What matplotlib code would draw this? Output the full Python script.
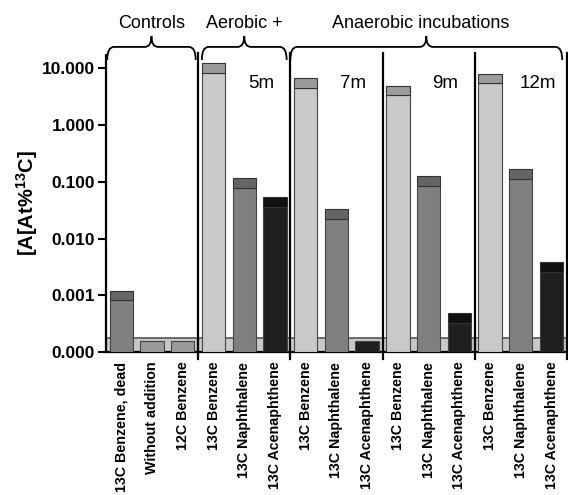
import numpy as np
import matplotlib
matplotlib.use("Agg")
import matplotlib.pyplot as plt
from matplotlib.path import Path
from matplotlib.patches import PathPatch
from matplotlib.transforms import blended_transform_factory
from matplotlib.ticker import FixedLocator, FuncFormatter, NullLocator

plt.rcParams['font.family'] = ['Liberation Sans', 'DejaVu Sans']
plt.rcParams['mathtext.fontset'] = 'custom'
plt.rcParams['mathtext.bf'] = 'Liberation Sans:bold'
plt.rcParams['mathtext.rm'] = 'Liberation Sans'

# ---- data ----
labels = ["13C Benzene, dead", "Without addition", "12C Benzene",
          "13C Benzene", "13C Naphthalene", "13C Acenaphthene",
          "13C Benzene", "13C Naphthalene", "13C Acenaphthene",
          "13C Benzene", "13C Naphthalene", "13C Acenaphthene",
          "13C Benzene", "13C Naphthalene", "13C Acenaphthene"]
means  = [8.3e-4, 1.56e-4, 1.56e-4,
          8.4, 0.079, 0.0366,
          4.5, 0.0222, 1.56e-4,
          3.4, 0.085, 3.3e-4,
          5.5, 0.114, 2.55e-3]
uppers = [1.2e-3, None, None,
          12.6, 0.119, 0.055,
          6.7, 0.033, None,
          5.0, 0.127, 4.8e-4,
          8.0, 0.169, 3.8e-3]
kind = ["ctrl", "blank", "blank",
        "benz", "naph", "acen",
        "benz", "naph", "acen",
        "benz", "naph", "acen",
        "benz", "naph", "acen"]
group_names = ["5m", "7m", "9m", "12m"]
detect_limit = 1.75e-4
ymin, ymax = 1e-4, 17.3

fill = {"ctrl": "#808080", "blank": "#9a9a9a", "benz": "#c9c9c9",
        "naph": "#808080", "acen": "#1e1e1e"}
cap = {"ctrl": "#666666", "blank": "#9a9a9a", "benz": "#9c9c9c",
       "naph": "#656565", "acen": "#111111"}

fig = plt.figure(figsize=(5.68, 4.95), dpi=100)
ax = fig.add_axes([0.1866, 0.2889, 0.8114, 0.6001])
ax.set_yscale("log")
ax.set_ylim(ymin, ymax)
ax.set_xlim(-0.5, 14.5)

x = np.arange(len(labels))
# detection-limit band
ax.axhspan(ymin, detect_limit, color="#c8c8c8", zorder=1, lw=0)
ax.axhline(detect_limit, color="#6a6a6a", lw=1.4, zorder=1.5)

w = 0.76
for xi, m, u, k in zip(x, means, uppers, kind):
    ax.bar(xi, m - ymin, bottom=ymin, width=w, color=fill[k],
           edgecolor="#444444", lw=0.8, zorder=3)
    if u is not None:
        ax.bar(xi, u - m, bottom=m, width=w, color=cap[k],
               edgecolor="#333333", lw=0.8, zorder=3)

# group separators
trans = blended_transform_factory(ax.transData, ax.transAxes)
for b in [2.5, 5.5, 8.5, 11.5, 14.5]:
    ax.plot([b, b], [-0.024, 1.007], transform=trans, color="black",
            lw=1.6, clip_on=False, zorder=5)

for i, g in enumerate(group_names):
    ax.text(3 + 3 * i + 1.55, 0.905, g, transform=trans, ha="center",
            va="center", fontsize=13.5)

# curly braces above the plot
def brace(x0, x1, yb=0.983, h=0.08, r=0.22):
    ym = yb + h * 0.55
    yt = yb + h
    xc = 0.5 * (x0 + x1)
    verts = [(x0, yb), (x0, ym), (x0 + r, ym), (xc - r, ym),
             (xc, ym), (xc, yt), (xc, ym), (xc + r, ym),
             (x1 - r, ym), (x1, ym), (x1, yb)]
    codes = [Path.MOVETO, Path.CURVE3, Path.CURVE3, Path.LINETO,
             Path.CURVE3, Path.CURVE3, Path.CURVE3, Path.CURVE3,
             Path.LINETO, Path.CURVE3, Path.CURVE3]
    ax.add_patch(PathPatch(Path(verts, codes), transform=trans, fill=False,
                           lw=1.3, color="black", clip_on=False))

brace(-0.46, 2.42)
brace(2.62, 5.38)
brace(5.5, 14.35)
ax.text(1.0, 1.105, "Controls", transform=trans, ha="center", va="center", fontsize=13)
ax.text(4.0, 1.105, "Aerobic +", transform=trans, ha="center", va="center", fontsize=13)
ax.text(9.75, 1.105, "Anaerobic incubations", transform=trans, ha="center", va="center", fontsize=13)

# axes styling
ax.spines["top"].set_visible(False)
ax.spines["right"].set_visible(False)
ax.spines["left"].set_linewidth(1.6)
ax.spines["bottom"].set_linewidth(1.6)
ax.yaxis.set_major_locator(FixedLocator([1e-4, 1e-3, 1e-2, 1e-1, 1, 10]))
ax.yaxis.set_minor_locator(NullLocator())
ax.yaxis.set_major_formatter(FuncFormatter(lambda v, p: f"{v:.3f}"))
ax.tick_params(axis="y", length=6, width=1.5, labelsize=12.5, pad=2)
for t in ax.get_yticklabels():
    t.set_fontweight("bold")
ax.set_xticks(x)
ax.set_xticklabels(labels, rotation=90, fontsize=10.3, fontweight="bold")
ax.tick_params(axis="x", length=0, pad=7)
ax.set_ylabel(r"[A[At%$^{\mathbf{13}}$C]", fontsize=14.5, fontweight="bold", labelpad=1)

fig.savefig("out.png", dpi=100)
